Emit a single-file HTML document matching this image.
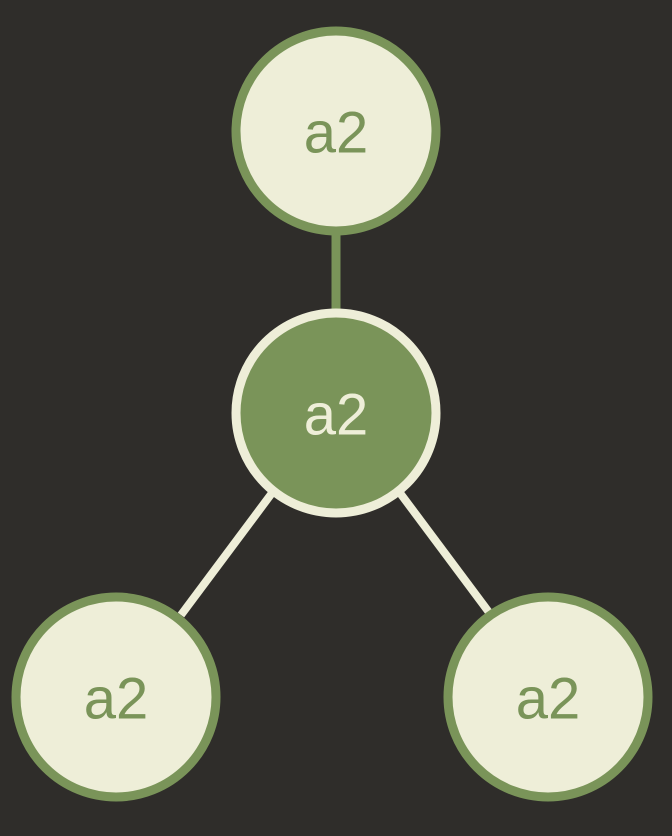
<!DOCTYPE html>
<html><head><meta charset="utf-8"><style>
html,body{margin:0;padding:0;background:#2f2d2a;}
svg{display:block;}
text{font-family:"Liberation Sans",sans-serif;font-size:58px;text-anchor:middle;dominant-baseline:central;}
</style></head><body>
<svg width="672" height="836" viewBox="0 0 672 836">
<rect width="672" height="836" fill="#2f2d2a"/>
<line x1="336" y1="231" x2="336" y2="312" stroke="#7a9459" stroke-width="9"/>
<line x1="272" y1="493" x2="181" y2="615" stroke="#eeeed8" stroke-width="8"/>
<line x1="400" y1="493" x2="491" y2="615" stroke="#eeeed8" stroke-width="8"/>
<circle cx="336" cy="131" r="100" fill="#eeeed8" stroke="#7a9459" stroke-width="9"/>
<circle cx="336" cy="413" r="100" fill="#7a9459" stroke="#eeeed8" stroke-width="9"/>
<circle cx="116" cy="697" r="100" fill="#eeeed8" stroke="#7a9459" stroke-width="9"/>
<circle cx="548" cy="697" r="100" fill="#eeeed8" stroke="#7a9459" stroke-width="9"/>
<text x="336" y="133" fill="#7a9459">a2</text>
<text x="336" y="415" fill="#eeeed8">a2</text>
<text x="116" y="699" fill="#7a9459">a2</text>
<text x="548" y="699" fill="#7a9459">a2</text>
</svg>
</body></html>
